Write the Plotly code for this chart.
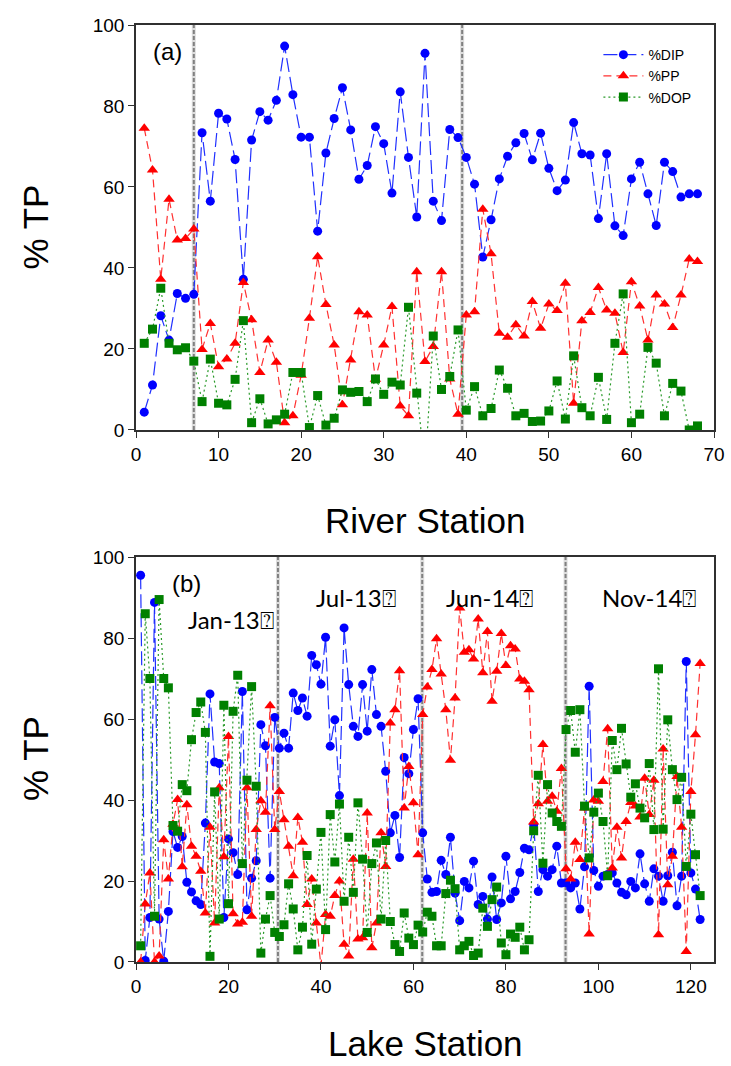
import plotly.graph_objects as go

# ---------------- Panel (a): River stations ----------------
river_station = list(range(1, 69))
river_dip = [4.4, 11.1, 28.2, 22.2, 33.7, 32.5, 33.5, 73.4, 56.5, 78.2,
             76.8, 66.8, 37.2, 71.6, 78.6, 76.5, 81.4, 94.8, 82.8, 72.3,
             72.3, 49.1, 68.4, 76.9, 84.5, 74.1, 61.9, 65.3, 74.9, 70.7,
             58.5, 83.5, 67.3, 52.6, 93.0, 56.5, 51.7, 74.2, 72.2, 67.3,
             60.7, 42.7, 51.9, 62.0, 67.6, 70.9, 73.2, 66.7, 73.3, 64.6,
             59.1, 61.7, 75.9, 68.2, 67.9, 52.2, 68.2, 50.4, 48.0, 62.0,
             66.1, 58.3, 50.5, 66.1, 63.8, 57.5, 58.3, 58.3]
river_pp = [74.5, 64.2, 37.2, 57.0, 46.9, 47.3, 49.6, 19.9, 26.3, 15.6,
            17.5, 21.4, 36.4, 27.2, 14.2, 22.2, 16.7, 1.8, 3.5, 13.5,
            27.6, 42.8, 31.0, 21.0, 6.2, 17.3, 29.2, 28.4, 12.5, 21.0,
            30.5, 5.9, 3.5, 39.1, 16.9, 20.6, 39.1, 12.6, 3.9, 28.4,
            29.2, 54.5, 43.5, 23.9, 22.9, 26.0, 23.2, 31.7, 25.1, 31.1,
            29.5, 36.2, 6.6, 27.0, 29.0, 35.2, 29.6, 28.8, 19.1, 36.6,
            30.6, 22.2, 33.3, 31.1, 25.3, 33.3, 42.2, 41.6]
river_dop = [21.4, 24.9, 35.0, 21.4, 19.8, 20.3, 17.0, 7.0, 17.5, 6.6,
             6.2, 12.5, 27.0, 1.8, 7.7, 1.5, 2.5, 3.9, 14.2, 14.2,
             0.6, 8.5, 1.2, 2.9, 9.9, 9.3, 9.5, 7.0, 12.6, 8.8,
             11.8, 11.1, 30.3, 9.1, -9.9, 23.2, 10.0, 13.2, 24.7, 4.9,
             10.7, 3.5, 5.3, 14.8, 10.3, 3.5, 4.1, 2.1, 2.2, 4.7,
             12.1, 2.7, 18.3, 5.5, 3.5, 13.0, 2.6, 21.4, 33.6, 1.8,
             3.9, 20.4, 16.5, 3.5, 11.5, 9.6, 0.0, 1.0]
river_breaks = [7, 39.5]

# ---------------- Panel (b): Lake stations ----------------
lake_station = list(range(1, 123))
lake_dip = [95.5, 0.4, 11.0, 88.8, 10.6, 0.2, 12.5, 32.2, 28.3, 31.0,
            19.7, 17.3, 15.1, 14.2, 34.3, 66.2, 49.4, 49.0, 11.0, 30.4,
            27.0, 21.6, 66.8, 12.9, 20.7, 25.0, 58.6, 53.4, 20.7, 60.4,
            52.8, 56.5, 52.8, 66.4, 62.1, 65.2, 60.7, 75.7, 73.4, 68.6,
            80.2, 53.3, 59.8, 41.1, 82.5, 68.5, 58.2, 55.7, 68.5, 57.0,
            72.2, 61.1, 58.2, 47.1, 31.9, 36.2, 25.8, 50.5, 46.5, 57.4,
            65.0, 31.9, 20.5, 17.2, 17.4, 25.1, 21.6, 30.8, 17.0, 10.2,
            19.9, 18.3, 24.9, 14.2, 16.2, 10.6, 21.0, 10.5, 14.6, 26.1,
            15.6, 17.4, 22.1, 28.1, 27.7, 33.9, 17.4, 22.8, 21.2, 22.8,
            28.6, 19.5, 19.6, 18.3, 19.5, 13.1, 23.5, 68.1, 22.6, 18.7,
            21.2, 21.6, 22.0, 19.5, 17.2, 16.6, 19.9, 18.3, 26.7, 19.3,
            15.0, 23.0, 21.2, 15.0, 21.3, 27.1, 13.9, 21.2, 74.2, 22.0,
            18.0, 10.5]
lake_pp = [0.0, 14.3, 22.0, 0.0, 1.5, 30.2, 20.5, 34.0, 40.1, 23.5,
           38.8, 28.6, 26.1, 22.4, 12.1, 33.3, 9.6, 43.0, 26.0, 55.7,
           11.9, 9.4, 9.8, 43.0, 11.3, 32.7, 39.8, 37.0, 63.3, 32.7,
           42.1, 35.1, 28.6, 21.3, 35.7, 29.6, 14.2, 20.5, 9.6, -1.0,
           11.7, 11.3, 16.4, 20.0, 4.4, 1.5, 25.4, 5.7, 6.0, 36.8,
           3.5, 9.6, 31.9, 23.6, 59.0, 62.3, 71.9, 38.0, 48.3, 39.3,
           26.5, 61.1, 67.9, 72.2, 79.8, 71.1, 62.3, 49.8, 65.2, 87.4,
           76.5, 77.1, 74.8, 84.7, 71.4, 81.6, 64.4, 71.8, 81.1, 73.2,
           78.1, 77.3, 69.9, 69.3, 67.2, 34.6, 39.1, 53.7, 39.7, 40.9,
           37.2, 47.8, 23.0, 20.5, 29.6, 25.3, 38.0, 6.9, 40.0, 39.7,
           44.6, 57.6, 23.2, 33.3, 25.7, 34.7, 39.4, 38.5, 35.8, 45.4,
           36.4, 44.9, 6.7, 52.6, 19.1, 26.1, 45.8, 33.3, 2.6, 42.1,
           56.1, 73.7]
lake_dop = [4.0, 86.0, 70.0, 11.3, 89.5, 70.0, 67.7, 33.7, 32.3, 43.8,
            42.3, 54.9, 61.6, 64.2, 56.7, 1.4, 42.0, 10.6, 63.4, 14.4,
            61.9, 70.8, 24.3, 44.9, 68.0, 43.4, 2.2, 10.6, 16.4, 7.3,
            6.3, 9.2, 19.3, 13.1, 3.0, 8.6, 26.3, 4.4, 18.0, 32.0,
            8.0, 36.4, 24.7, 39.0, 15.0, 30.8, 17.2, 39.3, 25.4, 7.3,
            24.3, 29.4, 10.6, 30.0, 10.0, 4.3, 2.6, 12.1, 5.9, 4.3,
            9.1, 7.4, 12.3, 11.3, 4.0, 4.0, 16.9, 20.2, 18.1, 3.0,
            4.0, 5.1, 1.6, 2.2, 13.3, 8.8, 15.4, 18.5, 4.7, 1.8,
            6.9, 6.1, 8.6, 3.0, 5.5, 32.4, 46.1, 24.4, 43.8, 36.8,
            34.7, 33.5, 57.4, 62.1, 51.8, 62.3, 38.5, 25.7, 37.0, 41.7,
            34.7, 21.3, 54.7, 47.5, 57.7, 48.9, 40.7, 44.0, 38.0, 35.6,
            49.0, 32.7, 72.4, 32.8, 59.8, 47.5, 40.1, 45.6, 23.6, 36.5,
            26.5, 16.4]
lake_breaks = [30.7, 61.9, 92.9]
lake_periods = ["Jan-13\u2370", "Jul-13\u2370", "Jun-14\u2370", "Nov-14\u2370"]
lake_period_x = [20.5, 47.5, 76.5, 111.0]
lake_period_y = [84.5, 90.0, 90.0, 90.0]

series_names = ["%DIP", "%PP", "%DOP"]
colors = ["#0000FF", "#FF0000", "#008000"]
line_colors = ["#2030FF", "#FF3030", "#2A9A2A"]
symbols = ["circle", "triangle-up", "square"]
dashes = ["14px,5px", "8px,5px", "2px,3px"]
msizes = [9, 10, 9]

fig = go.Figure()

river_vals = [river_dip, river_pp, river_dop]
lake_vals = [lake_dip, lake_pp, lake_dop]
for i in range(3):
    fig.add_trace(go.Scatter(
        x=river_station, y=river_vals[i], name=series_names[i],
        mode="lines+markers", xaxis="x", yaxis="y",
        line=dict(color=line_colors[i], width=1.2, dash=dashes[i]),
        marker=dict(symbol=symbols[i], size=msizes[i], color=colors[i]),
        showlegend=True))
for i in range(3):
    fig.add_trace(go.Scatter(
        x=lake_station, y=lake_vals[i], name=series_names[i],
        mode="lines+markers", xaxis="x2", yaxis="y2",
        line=dict(color=line_colors[i], width=1.2, dash=dashes[i]),
        marker=dict(symbol=symbols[i], size=msizes[i], color=colors[i]),
        showlegend=False))

# vertical separators
for xb in river_breaks:
    fig.add_shape(type="line", xref="x", yref="y domain", x0=xb, x1=xb, y0=0, y1=1,
                  line=dict(color="#DCDCDC", width=4), layer="below")
    fig.add_shape(type="line", xref="x", yref="y domain", x0=xb, x1=xb, y0=0, y1=1,
                  line=dict(color="#808080", width=2, dash="4px,2px"), layer="below")
for xb in lake_breaks:
    fig.add_shape(type="line", xref="x2", yref="y2 domain", x0=xb, x1=xb, y0=0, y1=1,
                  line=dict(color="#DCDCDC", width=4), layer="below")
    fig.add_shape(type="line", xref="x2", yref="y2 domain", x0=xb, x1=xb, y0=0, y1=1,
                  line=dict(color="#808080", width=2, dash="4px,2px"), layer="below")

tickfont = dict(family="Arial, Liberation Sans, sans-serif", size=19, color="black")
titlefont = dict(family="Arial, Liberation Sans, sans-serif", size=35, color="black")
axis_common = dict(showline=True, mirror=True, linecolor="#303030", linewidth=1.5,
                   ticks="outside", ticklen=6, tickcolor="#303030", tickwidth=1.2,
                   showgrid=False, zeroline=False, tickfont=tickfont, automargin=False)

fig.update_layout(
    width=731, height=1066,
    margin=dict(l=136, r=17, t=25, b=104),
    paper_bgcolor="white", plot_bgcolor="white",
    xaxis=dict(domain=[0, 1], anchor="y", range=[0, 70], dtick=10, tick0=0, **axis_common),
    yaxis=dict(domain=[0.5678, 1], anchor="x", range=[0, 100], dtick=20, tick0=0, **axis_common),
    xaxis2=dict(domain=[0, 1], anchor="y2", range=[0, 125], dtick=20, tick0=0, **axis_common),
    yaxis2=dict(domain=[0, 0.4322], anchor="x2", range=[0, 100], dtick=20, tick0=0, **axis_common),
    legend=dict(x=0.80, y=0.985, xanchor="left", yanchor="top",
                bgcolor="rgba(0,0,0,0)", borderwidth=0,
                font=dict(family="Arial, Liberation Sans, sans-serif", size=14, color="black"),
                itemwidth=40, tracegroupgap=2),
    showlegend=True,
)

# axis titles
fig.add_annotation(text="River Station", xref="paper", yref="paper", x=0.5, y=0.4717,
                   xanchor="center", yanchor="middle", showarrow=False, font=titlefont)
fig.add_annotation(text="Lake Station", xref="paper", yref="paper", x=0.5, y=-0.0865,
                   xanchor="center", yanchor="middle", showarrow=False, font=titlefont)
fig.add_annotation(text="% TP", xref="paper", yref="paper", x=-0.1747, y=0.7839,
                   textangle=-90, xanchor="center", yanchor="middle", showarrow=False, font=titlefont)
fig.add_annotation(text="% TP", xref="paper", yref="paper", x=-0.1747, y=0.2166,
                   textangle=-90, xanchor="center", yanchor="middle", showarrow=False, font=titlefont)

fig.add_annotation(text="(a)", xref="x domain", yref="y domain", x=0.054, y=0.935,
                   xanchor="center", yanchor="middle",
                   showarrow=False, font=dict(family="Arial, Liberation Sans", size=24, color="black"))
fig.add_annotation(text="(b)", xref="x2 domain", yref="y2 domain", x=0.088, y=0.935,
                   xanchor="center", yanchor="middle",
                   showarrow=False, font=dict(family="Arial, Liberation Sans", size=24, color="black"))
for t, xp, yp in zip(lake_periods, lake_period_x, lake_period_y):
    fig.add_annotation(text=t, xref="x2", yref="y2", x=xp, y=yp, showarrow=False,
                       xanchor="center", yanchor="middle",
                       font=dict(family="Lato, Open Sans, DejaVu Sans", size=24, color="black"))

fig.write_html("out.html")
